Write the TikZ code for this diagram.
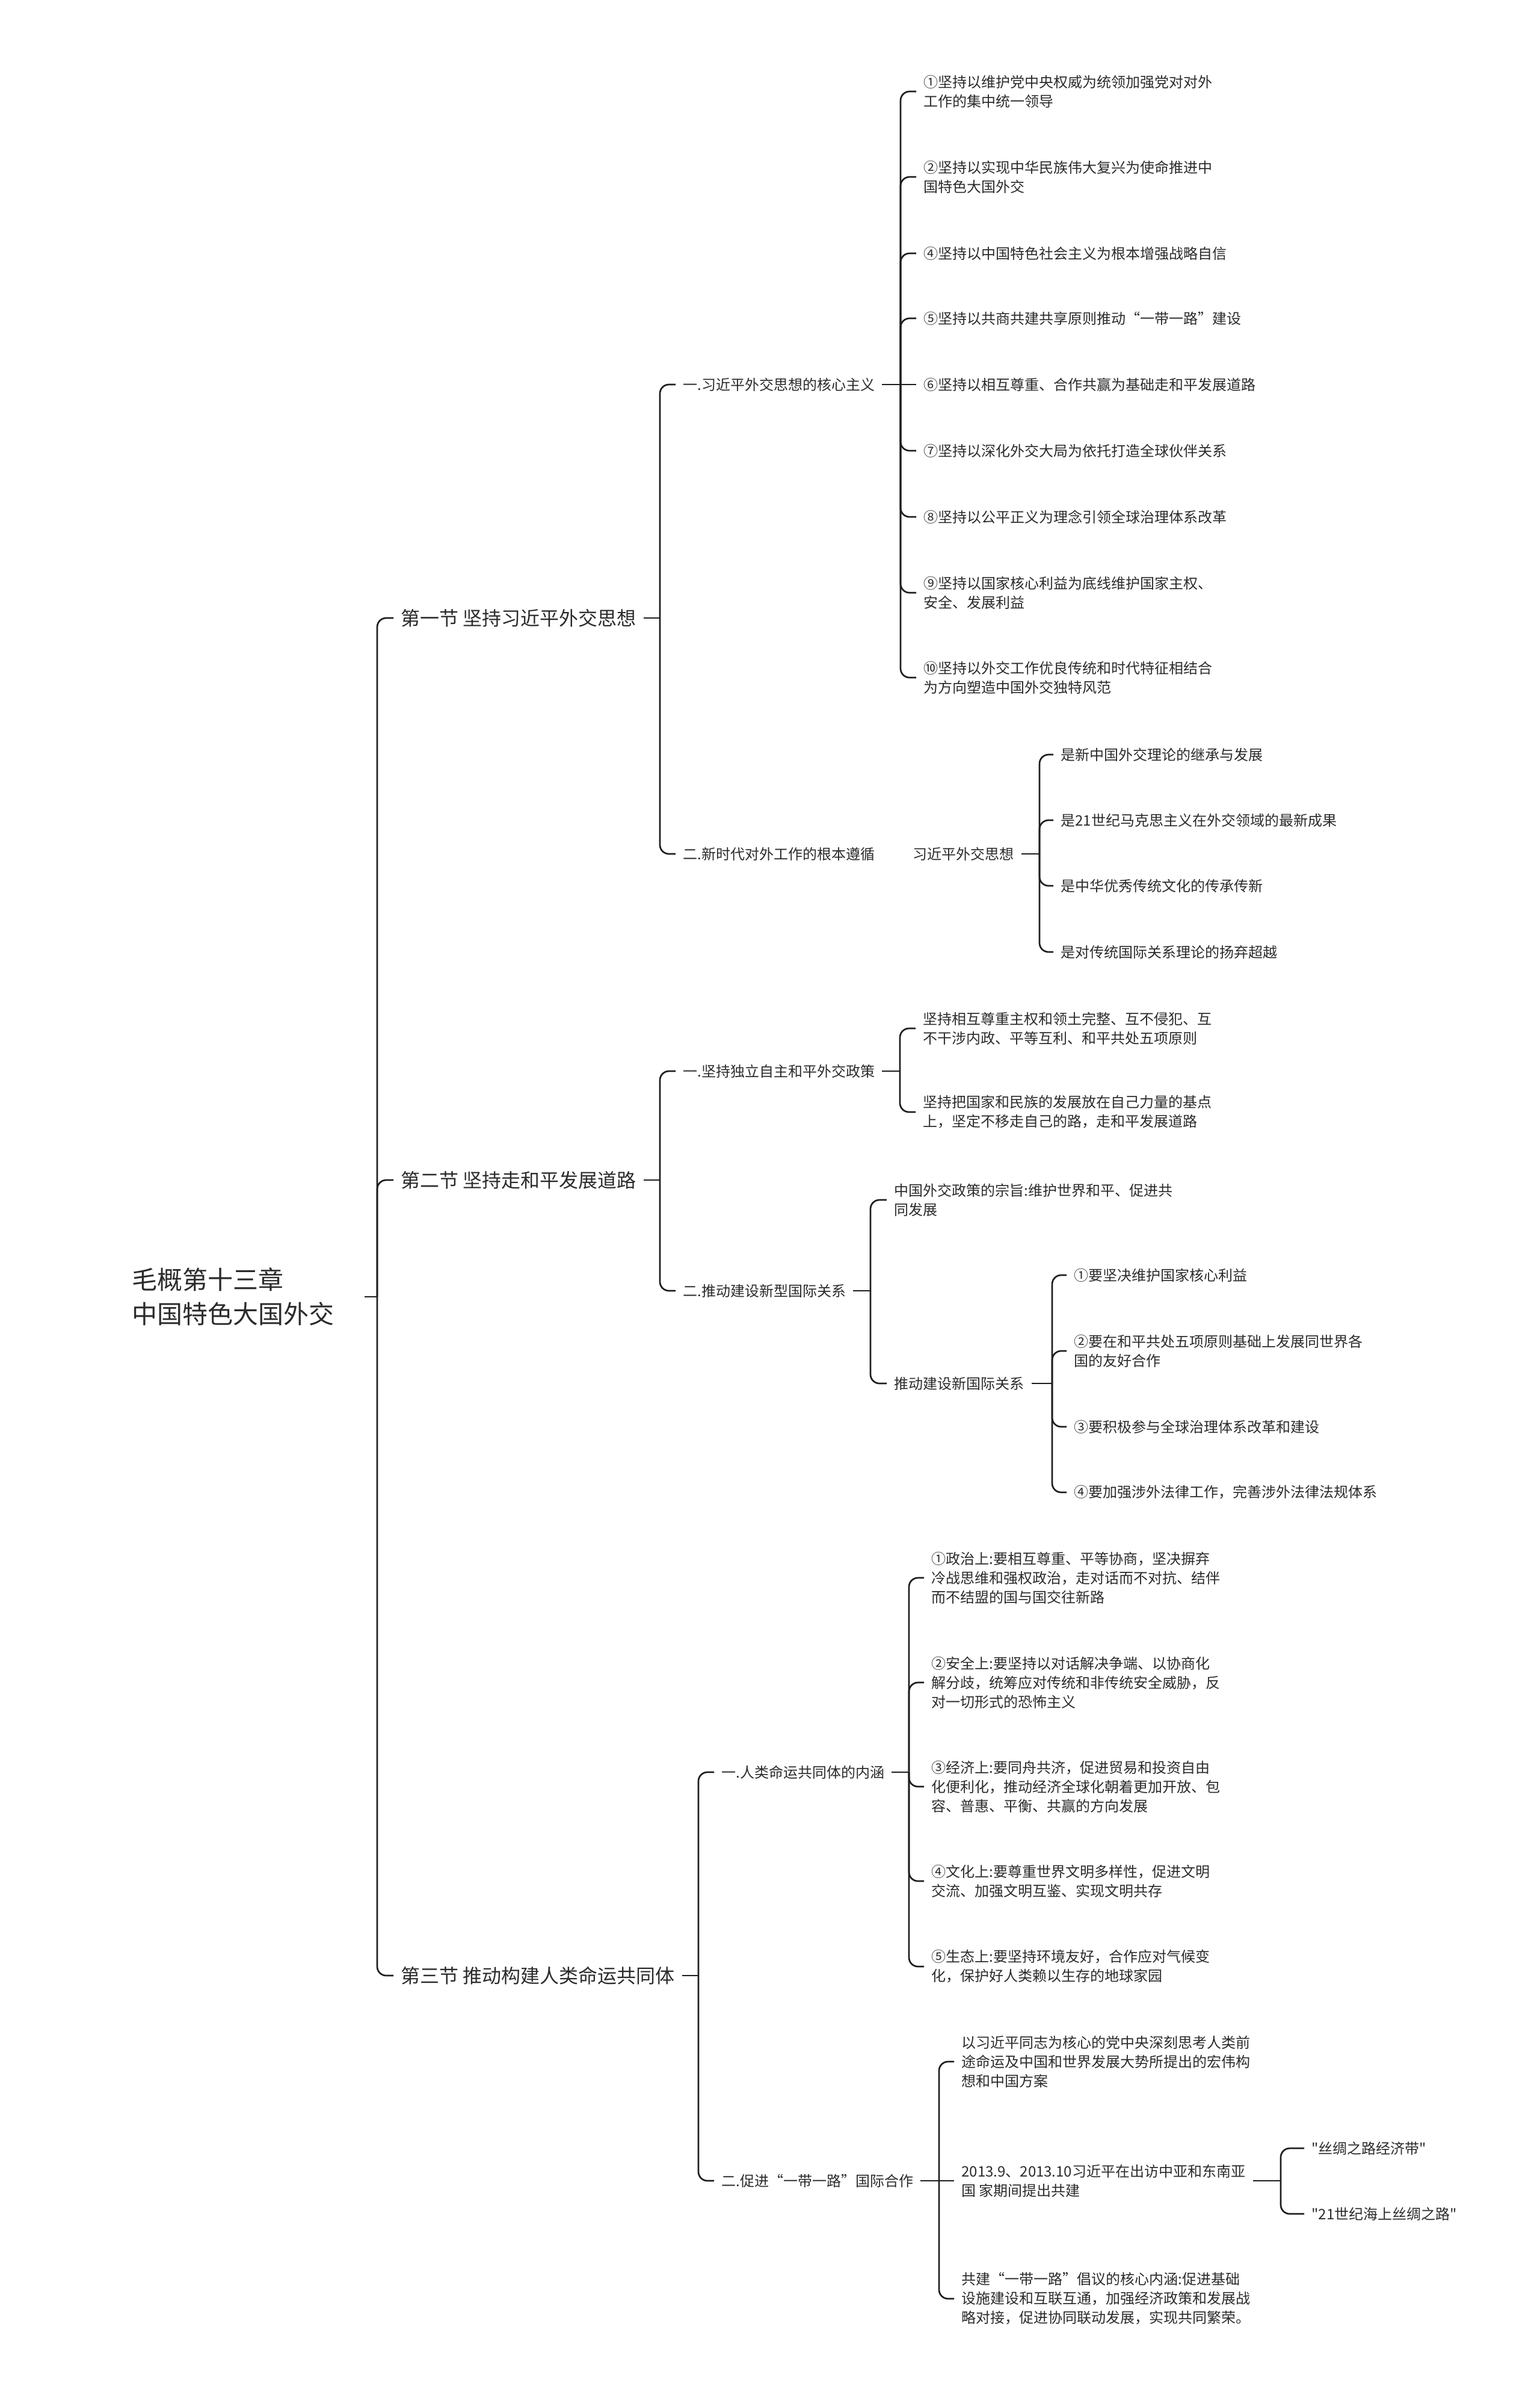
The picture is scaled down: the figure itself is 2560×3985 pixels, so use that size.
\documentclass[tikz,border=0pt]{standalone}
\usepackage{fontspec}
\setmainfont{Noto Sans CJK SC}[Ligatures=TeXOff]
\definecolor{txt}{HTML}{2B2B2B}
\definecolor{ln}{HTML}{1E1E1E}
\newcommand\mmstub[2]{\draw[stubline] (#1.east) -- (#1.east -| #2);}
\newcommand\mmbranch[3]{\draw[linkline] (#1.east -| #2) |- (#3.west);}
\newcommand\mmstraight[3]{\draw[stubline] (#1.east -| #2) -- (#3.west);}
\begin{document}
\begin{tikzpicture}[x=0.5pt,y=-0.5pt,
  every node/.style={inner ysep=2pt, inner xsep=6pt, text=txt, anchor=west, align=left,
    font=\fontsize{12}{16}\selectfont},
  secnode/.style={font=\fontsize{16}{20}\selectfont},
  rootnode/.style={font=\fontsize{21}{28.5}\selectfont, text width=193pt, inner xsep=0pt},
  linkline/.style={draw=ln, line width=1.35pt, rounded corners=7.5pt},
  stubline/.style={draw=ln, line width=1.35pt}]
\useasboundingbox (0,0) rectangle (2560,3985);

% trunk x positions
\coordinate (t0) at (627,0);
\coordinate (t1) at (1097,0);
\coordinate (t1a) at (1497,0);
\coordinate (t1b) at (1728,0);
\coordinate (t2) at (1097,0);
\coordinate (t2a) at (1496,0);
\coordinate (t2b) at (1447,0);
\coordinate (t2c) at (1749,0);
\coordinate (t3) at (1161,0);
\coordinate (t3a) at (1511,0);
\coordinate (t3b) at (1561,0);
\coordinate (t3c) at (2129,0);

% root
\node[rootnode] (root) at (219,2155) {毛概第十三章\\中国特色大国外交};

% sections
\node[secnode] (s1) at (654,1027) {第一节 坚持习近平外交思想};
\node[secnode] (s2) at (654,1961) {第二节 坚持走和平发展道路};
\node[secnode] (s3) at (654,3283) {第三节 推动构建人类命运共同体};

% section 1
\node (a1) at (1123,639) {一.习近平外交思想的核心主义};
\node (a2) at (1123,1419) {二.新时代对外工作的根本遵循};
\node (i1) at (1523,152) {①坚持以维护党中央权威为统领加强党对对外\\工作的集中统一领导};
\node (i2) at (1523,294) {②坚持以实现中华民族伟大复兴为使命推进中\\国特色大国外交};
\node (i4) at (1523,421) {④坚持以中国特色社会主义为根本增强战略自信};
\node (i5) at (1523,529) {⑤坚持以共商共建共享原则推动“一带一路”建设};
\node (i6) at (1523,639) {⑥坚持以相互尊重、合作共赢为基础走和平发展道路};
\node (i7) at (1523,749) {⑦坚持以深化外交大局为依托打造全球伙伴关系};
\node (i8) at (1523,859) {⑧坚持以公平正义为理念引领全球治理体系改革};
\node (i9) at (1523,985) {⑨坚持以国家核心利益为底线维护国家主权、\\安全、发展利益};
\node (i10) at (1523,1126) {⑩坚持以外交工作优良传统和时代特征相结合\\为方向塑造中国外交独特风范};
\node (x1) at (1505,1419) {习近平外交思想};
\node (j1) at (1751,1254) {是新中国外交理论的继承与发展};
\node (j2) at (1751,1363) {是21世纪马克思主义在外交领域的最新成果};
\node (j3) at (1751,1472) {是中华优秀传统文化的传承传新};
\node (j4) at (1751,1582) {是对传统国际关系理论的扬弃超越};

% section 2
\node (b1) at (1123,1780) {一.坚持独立自主和平外交政策};
\node (b2) at (1123,2145) {二.推动建设新型国际关系};
\node (k1) at (1522,1709) {坚持相互尊重主权和领土完整、互不侵犯、互\\不干涉内政、平等互利、和平共处五项原则};
\node (k2) at (1522,1848) {坚持把国家和民族的发展放在自己力量的基点\\上，坚定不移走自己的路，走和平发展道路};
\node (m1) at (1474,1994) {中国外交政策的宗旨:维护世界和平、促进共\\同发展};
\node (m2) at (1474,2299) {推动建设新国际关系};
\node (n1) at (1773,2119) {①要坚决维护国家核心利益};
\node (n2) at (1773,2245) {②要在和平共处五项原则基础上发展同世界各\\国的友好合作};
\node (n3) at (1773,2371) {③要积极参与全球治理体系改革和建设};
\node (n4) at (1773,2480) {④要加强涉外法律工作，完善涉外法律法规体系};

% section 3
\node (c1) at (1187,2945) {一.人类命运共同体的内涵};
\node (c2) at (1187,3624) {二.促进“一带一路”国际合作};
\node (p1) at (1536,2622) {①政治上:要相互尊重、平等协商，坚决摒弃\\冷战思维和强权政治，走对话而不对抗、结伴\\而不结盟的国与国交往新路};
\node (p2) at (1536,2796) {②安全上:要坚持以对话解决争端、以协商化\\解分歧，统筹应对传统和非传统安全威胁，反\\对一切形式的恐怖主义};
\node (p3) at (1536,2969) {③经济上:要同舟共济，促进贸易和投资自由\\化便利化，推动经济全球化朝着更加开放、包\\容、普惠、平衡、共赢的方向发展};
\node (p4) at (1536,3126) {④文化上:要尊重世界文明多样性，促进文明\\交流、加强文明互鉴、实现文明共存};
\node (p5) at (1536,3268) {⑤生态上:要坚持环境友好，合作应对气候变\\化，保护好人类赖以生存的地球家园};
\node (q1) at (1586,3426) {以习近平同志为核心的党中央深刻思考人类前\\途命运及中国和世界发展大势所提出的宏伟构\\想和中国方案};
\node (q2) at (1586,3624) {2013.9、2013.10习近平在出访中亚和东南亚\\国 家期间提出共建};
\node (q3) at (1586,3820) {共建“一带一路”倡议的核心内涵:促进基础\\设施建设和互联互通，加强经济政策和发展战\\略对接，促进协同联动发展，实现共同繁荣。};
\node (r1) at (2168,3570) {"丝绸之路经济带"};
\node (r2) at (2168,3679) {"21世纪海上丝绸之路"};

% connectors: root
\mmstub{root}{t0}
\mmbranch{root}{t0}{s1}
\mmbranch{root}{t0}{s2}
\mmbranch{root}{t0}{s3}
% section 1
\mmstub{s1}{t1}
\mmbranch{s1}{t1}{a1}
\mmbranch{s1}{t1}{a2}
\mmstub{a1}{t1a}
\mmbranch{a1}{t1a}{i1}
\mmbranch{a1}{t1a}{i2}
\mmbranch{a1}{t1a}{i4}
\mmbranch{a1}{t1a}{i5}
\mmstraight{a1}{t1a}{i6}
\mmbranch{a1}{t1a}{i7}
\mmbranch{a1}{t1a}{i8}
\mmbranch{a1}{t1a}{i9}
\mmbranch{a1}{t1a}{i10}
\mmstub{x1}{t1b}
\mmbranch{x1}{t1b}{j1}
\mmbranch{x1}{t1b}{j2}
\mmbranch{x1}{t1b}{j3}
\mmbranch{x1}{t1b}{j4}
% section 2
\mmstub{s2}{t2}
\mmbranch{s2}{t2}{b1}
\mmbranch{s2}{t2}{b2}
\mmstub{b1}{t2a}
\mmbranch{b1}{t2a}{k1}
\mmbranch{b1}{t2a}{k2}
\mmstub{b2}{t2b}
\mmbranch{b2}{t2b}{m1}
\mmbranch{b2}{t2b}{m2}
\mmstub{m2}{t2c}
\mmbranch{m2}{t2c}{n1}
\mmbranch{m2}{t2c}{n2}
\mmbranch{m2}{t2c}{n3}
\mmbranch{m2}{t2c}{n4}
% section 3
\mmstub{s3}{t3}
\mmbranch{s3}{t3}{c1}
\mmbranch{s3}{t3}{c2}
\mmstub{c1}{t3a}
\mmbranch{c1}{t3a}{p1}
\mmbranch{c1}{t3a}{p2}
\mmbranch{c1}{t3a}{p3}
\mmbranch{c1}{t3a}{p4}
\mmbranch{c1}{t3a}{p5}
\mmstub{c2}{t3b}
\mmbranch{c2}{t3b}{q1}
\mmstraight{c2}{t3b}{q2}
\mmbranch{c2}{t3b}{q3}
\mmstub{q2}{t3c}
\mmbranch{q2}{t3c}{r1}
\mmbranch{q2}{t3c}{r2}
\end{tikzpicture}
\end{document}
